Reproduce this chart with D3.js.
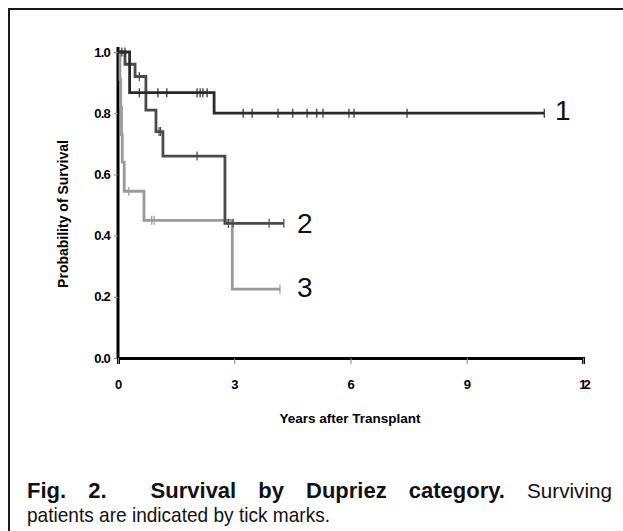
<!DOCTYPE html>
<html>
<head>
<meta charset="utf-8">
<script src="https://cdn.jsdelivr.net/npm/d3@7"></script>
<style>
  body { margin: 0; background: #fff; }
  svg { display: block; font-family: "Liberation Sans", Arial, sans-serif; }
</style>
</head>
<body>
<svg id="chart" width="623" height="531"></svg>
<script>
// Kaplan-Meier steps (years, survival)
const group1Times = [0, 0.3, 2.48, 11.0]
const group1Surv = [1, 0.867, 0.8, 0.8]
const group1Censored = [0.1, 0.18, 0.55, 1.03, 1.26, 2.04, 2.12, 2.19, 2.3, 3.23, 3.46, 4.13, 4.51, 4.88, 5.13, 5.29, 5.96, 6.09, 7.46, 11.0]

const group2Times = [0, 0.18, 0.44, 0.72, 0.98, 1.16, 2.76, 4.28]
const group2Surv = [1, 0.96, 0.92, 0.81, 0.74, 0.66, 0.44, 0.44]
const group2Censored = [0.55, 1.06, 1.1, 2.04, 2.85, 2.97, 3.9, 4.28]

const group3Times = [0, 0.05, 0.07, 0.09, 0.11, 0.16, 0.67, 2.95, 4.18]
const group3Surv = [1, 0.91, 0.82, 0.73, 0.64, 0.545, 0.45, 0.225, 0.225]
const group3Censored = [0.28, 0.87, 0.93, 4.18]

const groupNames = ['1', '2', '3']
const xTicks = [0, 3, 6, 9, 12]
const yTicks = [0, 0.2, 0.4, 0.6, 0.8, 1.0]

const captionBold = ['Fig.', '2.', '', 'Survival', 'by', 'Dupriez', 'category.']
const captionLine1Rest = ['Surviving']
const captionLine2 = 'patients are indicated by tick marks.'

const svg = d3.select('#chart')

// outer frame (runs off the right / bottom of the picture)
svg.append('rect')
  .attr('x', 9).attr('y', 9)
  .attr('width', 700).attr('height', 600)
  .attr('fill', 'none')
  .attr('stroke', '#1a1a1a')
  .attr('stroke-width', 2)

const xScale = d3.scaleLinear().domain([0, 12]).range([118, 583])
const yScale = d3.scaleLinear().domain([0, 1]).range([358, 52])

const groups = [
  { name: groupNames[2], times: group3Times, surv: group3Surv, cens: group3Censored, color: '#9a9a9a', lx: 297, ly: 297 },
  { name: groupNames[1], times: group2Times, surv: group2Surv, cens: group2Censored, color: '#4a4a4a', lx: 297, ly: 233 },
  { name: groupNames[0], times: group1Times, surv: group1Surv, cens: group1Censored, color: '#2a2a2a', lx: 555, ly: 120 }
]

const font = '"Liberation Sans", Arial, sans-serif'

// axes
const yAxis = svg.append('g')
  .attr('transform', 'translate(' + xScale(0) + ',0)')
  .call(d3.axisLeft(yScale).tickValues(yTicks).tickFormat(d3.format('.1f')).tickSize(4).tickPadding(4))
yAxis.select('.domain').attr('stroke', '#000').attr('stroke-width', 3)
  .attr('d', 'M0,47V' + yScale(0))
yAxis.selectAll('.tick line').attr('stroke', '#888')
yAxis.selectAll('.tick text')
  .attr('fill', '#000').attr('font-size', 13).attr('font-weight', 'bold')
  .attr('font-family', font)
  .attr('letter-spacing', -0.8)

const xAxis = svg.append('g')
  .attr('transform', 'translate(0,' + yScale(0) + ')')
  .call(d3.axisBottom(xScale).tickValues(xTicks).tickSize(6).tickPadding(16))
xAxis.select('.domain').attr('stroke', '#000').attr('stroke-width', 3)
xAxis.selectAll('.tick line').attr('stroke', '#888')
xAxis.selectAll('.tick text')
  .attr('fill', '#000').attr('font-size', 13).attr('font-weight', 'bold')
  .attr('font-family', font)
  .attr('letter-spacing', d => d === 12 ? -3 : 0)

// axis titles
svg.append('text')
  .attr('x', 350).attr('y', 423)
  .attr('text-anchor', 'middle')
  .attr('font-size', 13.5).attr('font-weight', 'bold')
  .text('Years after Transplant')

svg.append('text')
  .attr('transform', 'translate(68,214) rotate(-90)')
  .attr('text-anchor', 'middle')
  .attr('font-size', 14).attr('font-weight', 'bold')
  .text('Probability of Survival')

// survival curves
const line = d3.line()
  .x(d => xScale(d[0]))
  .y(d => yScale(d[1]))
  .curve(d3.curveStepAfter)

function survAt (g, t) {
  let s = g.surv[0]
  g.times.forEach((tt, i) => { if (tt <= t) s = g.surv[i] })
  return s
}

groups.forEach(g => {
  const pts = g.times.map((t, i) => [t, g.surv[i]])
  svg.append('path')
    .datum(pts)
    .attr('d', line)
    .attr('fill', 'none')
    .attr('stroke', g.color)
    .attr('stroke-width', 2.8)

  svg.selectAll(null)
    .data(g.cens)
    .enter()
    .append('line')
    .attr('x1', d => xScale(d)).attr('x2', d => xScale(d))
    .attr('y1', d => yScale(survAt(g, d)) - 4.5)
    .attr('y2', d => yScale(survAt(g, d)) + 4.5)
    .attr('stroke', g.color)
    .attr('stroke-width', 1.2)

  svg.append('text')
    .attr('x', g.lx).attr('y', g.ly)
    .attr('font-size', 28)
    .attr('fill', '#111')
    .text(g.name)
})

// caption, first line justified between 27 and 612
const cap = svg.append('g').attr('font-size', 21).attr('fill', '#111')
const words1 = captionBold.map(w => ({ w: w, bold: true })).concat(captionLine1Rest.map(w => ({ w: w, bold: false })))
const nodes = words1.map(o => cap.append('text')
  .attr('y', 498)
  .attr('font-weight', o.bold ? 'bold' : 'normal')
  .attr('font-size', o.bold ? 22 : 21)
  .attr('textLength', o.bold ? null : 85)
  .attr('lengthAdjust', 'spacingAndGlyphs')
  .text(o.w))
const widths = nodes.map((n, i) => words1[i].bold ? n.node().getComputedTextLength() : 85)
const total = d3.sum(widths)
const gap = (612 - 27 - total) / (nodes.length - 1)
let cx = 27
nodes.forEach((n, i) => {
  n.attr('x', cx)
  cx += widths[i] + gap
})

cap.append('text')
  .attr('x', 27).attr('y', 522)
  .attr('textLength', 303)
  .attr('lengthAdjust', 'spacingAndGlyphs')
  .text(captionLine2)
</script>
</body>
</html>
